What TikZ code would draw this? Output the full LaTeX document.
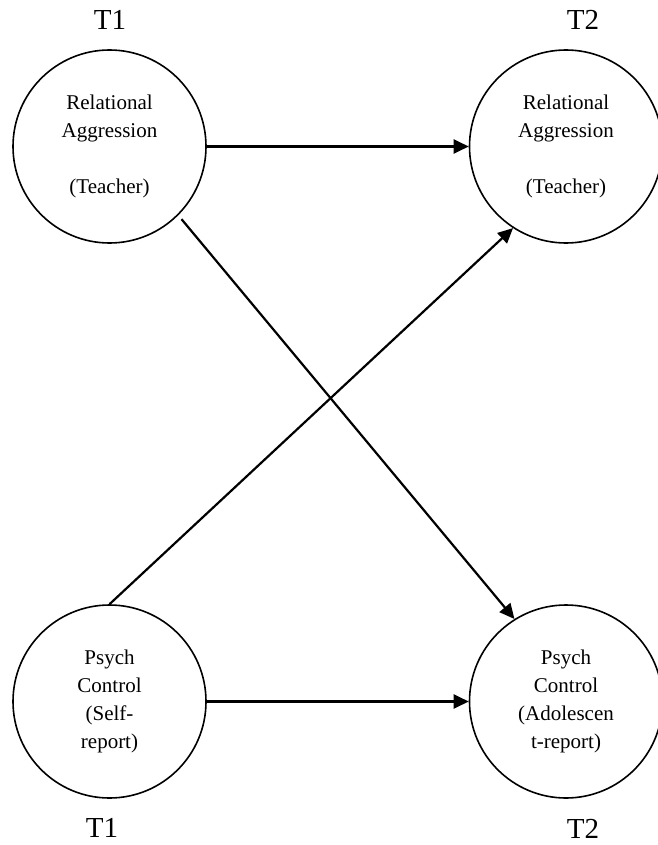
\documentclass[tikz,border=0pt]{standalone}
\usepackage{fontspec}
\setmainfont{Liberation Serif}
\usetikzlibrary{arrows.meta, positioning}

\begin{document}
\begin{tikzpicture}[x=1pt, y=-1pt,
            var/.style={draw, circle, line width=1.6pt, minimum size=193pt, inner sep=0pt,
                align=center, font=\fontsize{21}{28}\selectfont},
            timelabel/.style={inner sep=0pt, font=\fontsize{29}{34}\selectfont},
            effect/.style={-{Triangle[length=15pt, width=14pt]}, line width=2.2pt},
        ]
        \useasboundingbox (0,0) rectangle (657,845);

        \node[timelabel] (t1top) at (110,20) {T1};
        \node[timelabel] (t2top) at (583,20) {T2};

        \node[var] (ra1) at (109.5,146.5) {Relational\\Aggression\\[28pt](Teacher)};
        \node[var] (ra2) at (566,146.5) {Relational\\Aggression\\[28pt](Teacher)};

        \node[var] (pc1) at (109.5,701.5) {Psych\\Control\\(Self-\\report)};
        \node[var] (pc2) at (566,701.5) {Psych\\Control\\(Adolescen\\t-report)};

        \node[timelabel] (t1bot) at (102,828) {T1};
        \node[timelabel] (t2bot) at (583,829) {T2};

        \draw[effect] (ra1) -- (ra2);
        \draw[effect] (pc1) -- (pc2);

        \draw[effect, shorten <=5pt] (ra1.-45) -- (pc2.122);
        \draw[effect] (pc1.north) -- (ra2.237);

        \end{tikzpicture}
\end{document}
